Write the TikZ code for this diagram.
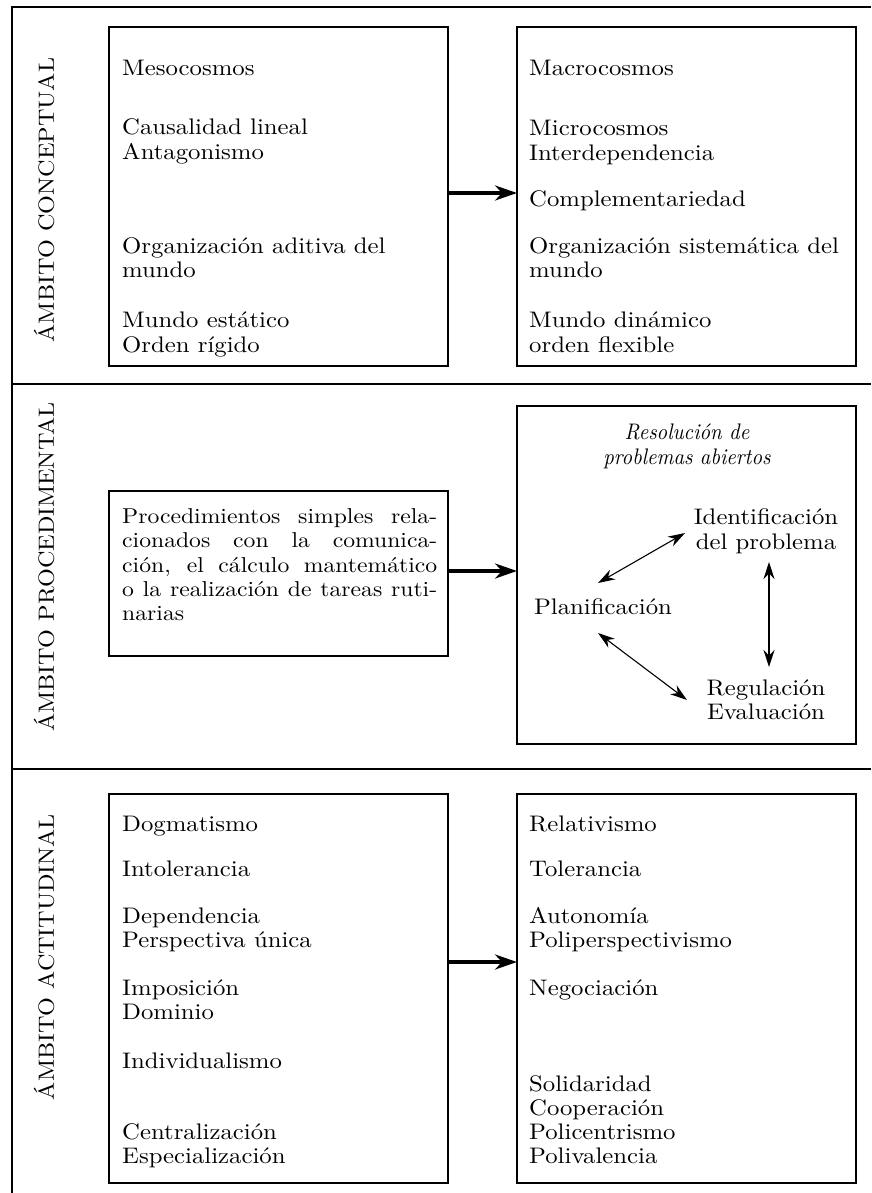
\documentclass[tikz,border=0pt]{standalone}
\usepackage{fontspec}
\setmainfont{lmroman10-regular.otf}[ItalicFont=lmroman10-italic.otf, BoldFont=lmroman10-bold.otf, FakeStretch=1.1]
\newfontfamily\headit{lmroman10-italic.otf}[FakeStretch=0.92]
\usetikzlibrary{arrows.meta}
\tikzset{
 frame/.style={line width=1.4pt},
 box/.style={draw, line width=1.3pt, anchor=north west, inner sep=0pt, outer sep=0pt},
 txt/.style={anchor=base west, inner sep=0pt, font=\fontsize{22.5}{24.5}\selectfont},
 ptxt/.style={anchor=base west, inner sep=0pt, font=\fontsize{21.5}{24.5}\selectfont},
 ctxt/.style={align=center, inner sep=0pt, font=\fontsize{22.5}{24.5}\selectfont},
 ital/.style={align=center, inner sep=0pt, font=\fontsize{22.5}{25}\headit},
 lab/.style={rotate=90, inner sep=0pt, font=\fontsize{22}{24}\selectfont},
 bigarrow/.style={line width=4.5pt, -{Stealth[length=22pt,width=15pt]}},
 dbl/.style={line width=1.1pt, {Stealth[length=17pt,width=11pt]}-{Stealth[length=17pt,width=11pt]}},
}
\begin{document}
\begin{tikzpicture}[x=1pt,y=-1pt]
\useasboundingbox (0,0) rectangle (871,1193);
% frame
\draw[frame] (871,7) -- (12,7) -- (12,1193);
\draw[frame] (12,384) -- (871,384);
\draw[frame] (12,769) -- (871,769);
% side labels
\node[lab] (lab1) at (44,200) {ÁMBITO CONCEPTUAL};
\node[lab] (lab2) at (44,567) {ÁMBITO PROCEDIMENTAL};
\node[lab] (lab3) at (44,957) {ÁMBITO ACTITUDINAL};
% boxes
\node[box, minimum width=339pt, minimum height=339pt] (L1) at (109,27) {};
\node[box, minimum width=339pt, minimum height=339pt] (R1) at (517,27) {};
\node[box, minimum width=339pt, minimum height=165pt] (L2) at (109,491) {};
\node[box, minimum width=339pt, minimum height=338pt] (R2) at (517,406) {};
\node[box, minimum width=339pt, minimum height=389pt] (L3) at (109,794) {};
\node[box, minimum width=339pt, minimum height=389pt] (R3) at (517,794) {};
% arrows between boxes
\coordinate (a1) at (480,193);
\coordinate (a2) at (480,571);
\coordinate (a3) at (480,962);
\draw[bigarrow] (L1.east |- a1) -- (R1.west |- a1);
\draw[bigarrow] (L2.east |- a2) -- (R2.west |- a2);
\draw[bigarrow] (L3.east |- a3) -- (R3.west |- a3);
% conceptual left
\node[txt] (c1) at (122,76) {Mesocosmos};
\node[txt] (c2) at (122,135) {Causalidad lineal};
\node[txt] (c3) at (122,160) {Antagonismo};
\node[txt] (c4) at (122,253) {Organización aditiva del};
\node[txt] (c5) at (122,277) {mundo};
\node[txt] (c6) at (122,327) {Mundo estático};
\node[txt] (c7) at (122,352) {Orden rígido};
% conceptual right
\node[txt] (d1) at (529,76) {Macrocosmos};
\node[txt] (d2) at (529,136) {Microcosmos};
\node[txt] (d3) at (529,161) {Interdependencia};
\node[txt] (d4) at (529,206) {Complementariedad};
\node[txt] (d5) at (529,253) {Organización sistemática del};
\node[txt] (d6) at (529,277) {mundo};
\node[txt] (d7) at (529,327) {Mundo dinámico};
\node[txt] (d8) at (529,352) {orden flexible};
% procedimental left
\node[ptxt] (p1) at (122,523) {\makebox[315pt][s]{Procedimientos simples rela-}};
\node[ptxt] (p2) at (122,547) {\makebox[315pt][s]{cionados con la comunica-}};
\node[ptxt] (p3) at (122,572) {\makebox[315pt][s]{ción, el cálculo mantemático}};
\node[ptxt] (p4) at (122,596) {\makebox[315pt][s]{o la realización de tareas ruti-}};
\node[ptxt] (p5) at (122,620) {narias};
% procedimental right
\node[ital] (h) at (687,446) {Resolución de\\problemas abiertos};
\node[ctxt] (I) at (766,531) {Identificación\\del problema};
\node[ctxt] (P) at (603,607) {Planificación};
\node[ctxt] (R) at (766,700) {Regulación\\Evaluación};
\draw[dbl] ([xshift=-5pt,yshift=24pt]P.center) -- ([xshift=-81pt,yshift=-2pt]I.center);
\draw[dbl] ([xshift=3pt,yshift=-31pt]I.center) -- ([xshift=3pt,yshift=33pt]R.center);
\draw[dbl] ([xshift=-5pt,yshift=-26pt]P.center) -- ([xshift=-79pt,yshift=0pt]R.center);
% actitudinal left
\node[txt] (e1) at (122,831) {Dogmatismo};
\node[txt] (e2) at (122,876) {Intolerancia};
\node[txt] (e3) at (122,923) {Dependencia};
\node[txt] (e4) at (122,947) {Perspectiva única};
\node[txt] (e5) at (122,995) {Imposición};
\node[txt] (e6) at (122,1019) {Dominio};
\node[txt] (e7) at (122,1068) {Individualismo};
\node[txt] (e8) at (122,1139) {Centralización};
\node[txt] (e9) at (122,1163) {Especialización};
% actitudinal right
\node[txt] (f1) at (529,831) {Relativismo};
\node[txt] (f2) at (529,876) {Tolerancia};
\node[txt] (f3) at (529,923) {Autonomía};
\node[txt] (f4) at (529,947) {Poliperspectivismo};
\node[txt] (f5) at (529,995) {Negociación};
\node[txt] (f6) at (529,1091) {Solidaridad};
\node[txt] (f7) at (529,1115) {Cooperación};
\node[txt] (f8) at (529,1139) {Policentrismo};
\node[txt] (f9) at (529,1163) {Polivalencia};
\end{tikzpicture}
\end{document}
